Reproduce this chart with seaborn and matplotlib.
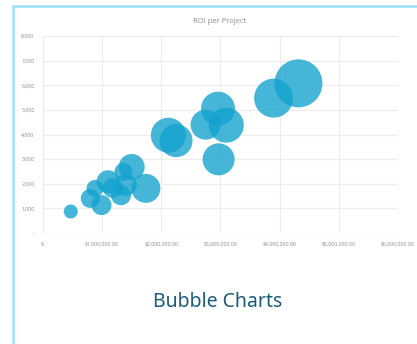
import matplotlib
matplotlib.use("Agg")
import matplotlib.pyplot as plt
from matplotlib.ticker import FixedLocator, FuncFormatter
import seaborn as sns
import pandas as pd

# Project investment (USD), return, and bubble size (project weight)
investment = [470000, 800000, 990000, 880000, 1100000, 1360000, 1500000, 1320000,
              1180000, 1400000, 1740000, 2120000, 2250000, 2750000, 2960000,
              3100000, 2970000, 3900000, 4320000]
roi = [870, 1400, 1130, 1810, 2080, 2480, 2680, 1530, 1830, 1950, 1810,
       3970, 3750, 4400, 5050, 4380, 2990, 5480, 6080]
weight = [49, 90, 100, 72, 132, 81, 169, 100, 100, 121, 210, 306, 272,
          225, 289, 306, 256, 380, 576]

x_ticks = [0, 1000000, 2000000, 3000000, 4000000, 5000000, 6000000]
y_ticks = [0, 1000, 2000, 3000, 4000, 5000, 6000, 7000, 8000]

df = pd.DataFrame({"investment": investment, "roi": roi, "weight": weight})

sns.set_theme(style="white")
plt.rcParams["font.family"] = ["Open Sans", "DejaVu Sans"]

fig = plt.figure(figsize=(4.17, 3.44), dpi=100)
ax = fig.add_axes([0.103, 0.323, 0.851, 0.572])

area_per_unit = 2.0736
sns.scatterplot(data=df, x="investment", y="roi", size="weight",
                sizes=(min(weight) * area_per_unit, max(weight) * area_per_unit),
                size_norm=(min(weight), max(weight)),
                color="#12a2cd", alpha=0.78, edgecolor="none",
                legend=False, ax=ax, zorder=3)

ax.set_xlim(0, 6000000)
ax.set_ylim(0, 8000)
ax.xaxis.set_major_locator(FixedLocator(x_ticks))
ax.yaxis.set_major_locator(FixedLocator(y_ticks))
ax.xaxis.set_major_formatter(FuncFormatter(
    lambda v, p: "$-" if v == 0 else f"${v:,.2f}"))
ax.yaxis.set_major_formatter(FuncFormatter(
    lambda v, p: "-" if v == 0 else f"{v:,.0f}"))
ax.tick_params(axis="both", labelsize=3.7, colors="#8a8a8a", length=0, pad=6)
ax.grid(True, color="#ececec", linewidth=0.8)
ax.set_axisbelow(True)
for s in ax.spines.values():
    s.set_visible(False)
ax.set_xlabel("")
ax.set_ylabel("")

fig.text(0.528, 0.938, "ROI per Project", ha="center", va="center",
         fontsize=5.5, color="#8c8c8c")
fig.text(0.523, 0.122, "Bubble Charts", ha="center", va="center",
         fontsize=14, color="#1d5d78", family=["Noto Sans", "DejaVu Sans"])

# card outline along the top and left edges
fig.add_artist(plt.Line2D([0.03, 1.0], [0.982, 0.982], transform=fig.transFigure,
                          color="#9fe2f7", linewidth=1.8))
fig.add_artist(plt.Line2D([0.03, 0.03], [0.0, 0.982], transform=fig.transFigure,
                          color="#9fe2f7", linewidth=1.8))

fig.savefig("out.png", dpi=100, facecolor="white")
